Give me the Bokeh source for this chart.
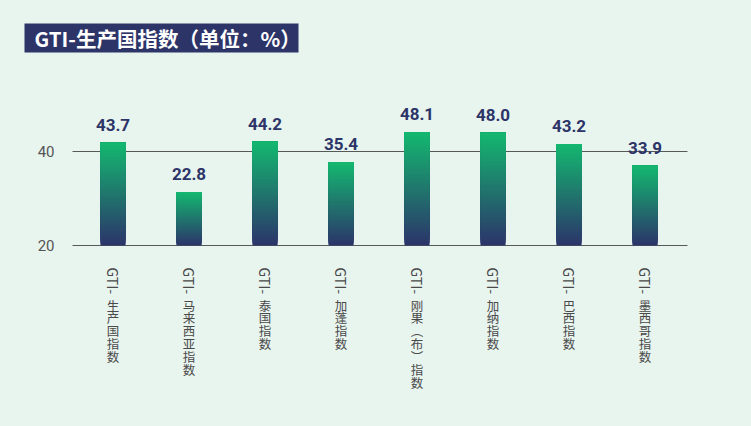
import math
from bokeh.plotting import figure
from bokeh.models import Range1d, ColumnDataSource, Label
from bokeh.core.properties import value
from bokeh.embed import file_html
from bokeh.resources import INLINE

# ---- data ----
categories = ["GTI-生产国指数", "GTI-马来西亚指数", "GTI-泰国指数", "GTI-加蓬指数",
              "GTI-刚果（布）指数", "GTI-加纳指数", "GTI-巴西指数", "GTI-墨西哥指数"]
values = [43.7, 22.8, 44.2, 35.4, 48.1, 48.0, 43.2, 33.9]
y_ticks = [0, 40]
y_tick_labels = ["20", "40"]
title_text = "GTI-生产国指数（单位：%）"

# ---- style ----
BG = "#E8F4EE"
NAVY = "#2C3468"
GREEN = (20, 184, 112)
DARK = (44, 52, 106)
NUM_FONT = "Roboto, sans-serif"
CJK = "'Noto Sans CJK SC', sans-serif"

W, H = 735, 410
X0_PX, X_STEP = 112.5, 76.0
Y0_PX, Y_PX_PER_UNIT = 245.0, 2.35

def sx(px):
    return (px - X0_PX) / X_STEP

def sy(py):
    return (Y0_PX - py) / Y_PX_PER_UNIT

p = figure(width=W, height=H, output_backend="svg", toolbar_location=None,
           x_range=Range1d(sx(0), sx(W)), y_range=Range1d(sy(H), sy(0)),
           min_border=0)
p.background_fill_color = BG
p.border_fill_color = BG
p.outline_line_color = None
p.xaxis.visible = False
p.yaxis.visible = False
p.grid.visible = False

# gridlines at tick values
p.segment(x0=[sx(72)] * len(y_ticks), x1=[sx(687)] * len(y_ticks), y0=y_ticks, y1=y_ticks,
          line_color="#555a58", line_width=1)

# y tick labels
p.text(x=[sx(54)] * len(y_ticks), y=y_ticks, text=y_tick_labels, text_align="right",
       text_baseline="middle", text_font=value(NUM_FONT), text_font_size="15px",
       text_color="#555555")

# gradient bars
N = 60
bw = 25.0 / X_STEP
left, right, top, bottom, colors = [], [], [], [], []
for i, v in enumerate(values):
    for k in range(N):
        f = (k + 0.5) / N
        c = tuple(round(DARK[j] + (GREEN[j] - DARK[j]) * f) for j in range(3))
        left.append(i - bw / 2)
        right.append(i + bw / 2)
        bottom.append(v * k / N)
        top.append(v)
        colors.append("#%02x%02x%02x" % c)
src = ColumnDataSource(dict(left=left, right=right, top=top, bottom=bottom, color=colors))
p.quad(left="left", right="right", top="top", bottom="bottom", fill_color="color",
       line_color=None, source=src)

# value labels
xs = list(range(len(values)))
p.text(x=xs, y=values, text=["%.1f" % v for v in values], text_align="center",
       text_baseline="alphabetic", y_offset=-18, text_font=value(NUM_FONT),
       text_font_size="17px", text_font_style="bold", text_color=NAVY)

# category labels: latin prefix rotated, CJK part stacked upright
vert = {"（": "︵", "）": "︶"}
prefix, rest = [], []
for c in categories:
    pre, body = c[:4], c[4:]
    prefix.append(pre)
    rest.append("\n".join(vert.get(ch, ch) for ch in body))
zeros = [0] * len(categories)
p.text(x=xs, y=zeros, text=prefix, angle=-math.pi / 2, text_align="left",
       text_baseline="middle", y_offset=22, text_font=value(CJK), text_font_size="14px",
       text_color="#4a4a4a")
p.text(x=xs, y=zeros, text=rest, text_align="center", text_baseline="top",
       y_offset=50, text_font=value(CJK), text_font_size="12.5px", text_line_height=0.68,
       text_color="#4a4a4a")

# title box
p.quad(left=[sx(24)], right=[sx(298)], top=[sy(23)], bottom=[sy(52)],
       fill_color=NAVY, line_color=None)
p.add_layout(Label(x=sx(34), y=sy(37.5), text=title_text, text_align="left",
                   text_baseline="middle", text_font=CJK, text_font_size="20.5px",
                   text_font_style="bold", text_color="white"))

html = file_html(p, INLINE)
html = html.replace("<head>", "<head><style>html,body{background:%s;}</style>" % BG, 1)
open("out.html", "w").write(html)
